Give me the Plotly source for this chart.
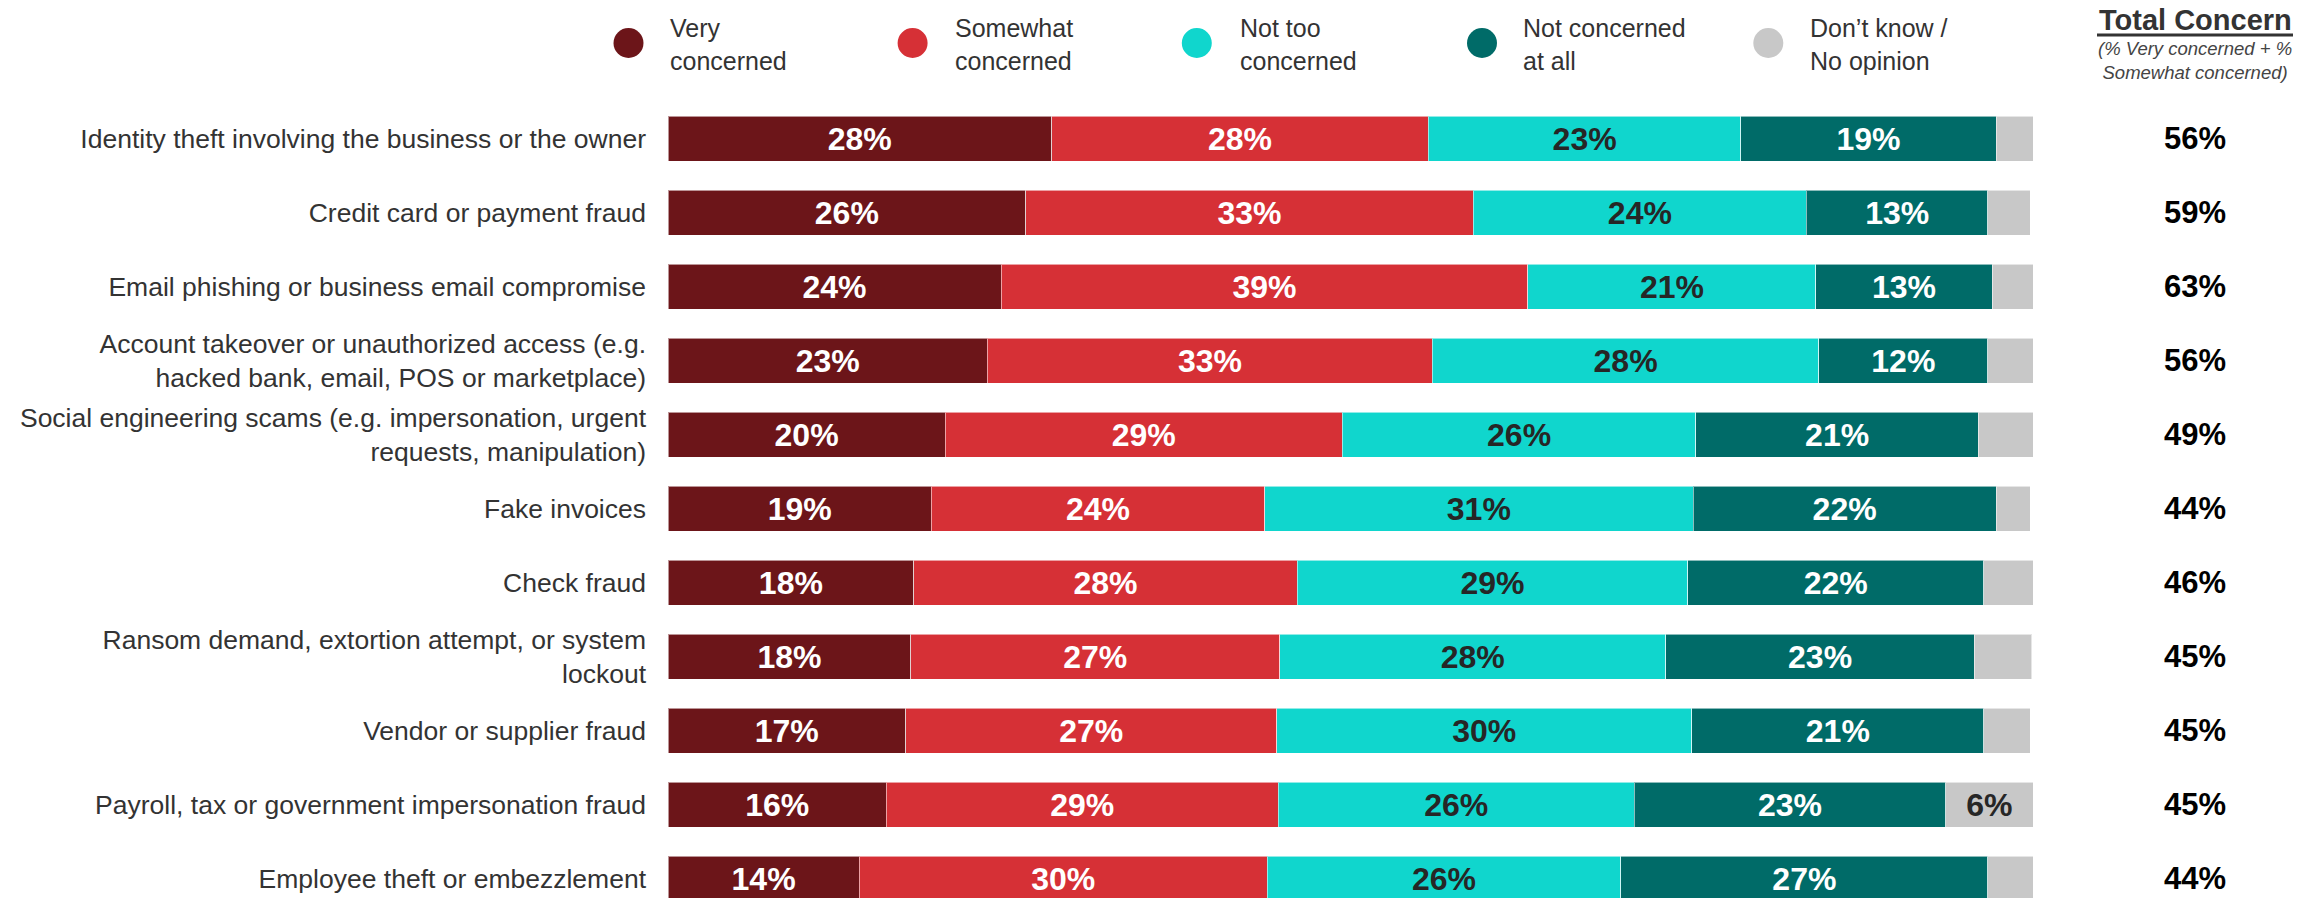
import plotly.graph_objects as go

# ---------------- data ----------------
categories = [
    "Identity theft involving the business or the owner",
    "Credit card or payment fraud",
    "Email phishing or business email compromise",
    "Account takeover or unauthorized access (e.g.<br>hacked bank, email, POS or marketplace)",
    "Social engineering scams (e.g. impersonation, urgent<br>requests, manipulation)",
    "Fake invoices",
    "Check fraud",
    "Ransom demand, extortion attempt, or system<br>lockout",
    "Vendor or supplier fraud",
    "Payroll, tax or government impersonation fraud",
    "Employee theft or embezzlement",
]
very = [28.1, 26.2, 24.4, 23.4, 20.3, 19.3, 18.0, 17.8, 17.4, 16.0, 14.0]
somewhat = [27.6, 32.8, 38.6, 32.6, 29.1, 24.4, 28.1, 27.0, 27.2, 28.7, 29.9]
not_too = [22.9, 24.4, 21.1, 28.3, 25.9, 31.4, 28.6, 28.3, 30.4, 26.1, 25.9]
not_at_all = [18.7, 13.3, 12.9, 12.4, 20.7, 22.2, 21.7, 22.6, 21.4, 22.8, 26.9]
dont_know = [2.8, 3.1, 3.0, 3.3, 4.0, 2.5, 3.6, 4.2, 3.4, 6.4, 3.3]
total_concern = [56, 59, 63, 56, 49, 44, 46, 45, 45, 45, 44]

series_names = ["Very<br>concerned", "Somewhat<br>concerned", "Not too<br>concerned",
                "Not concerned<br>at all", "Don\u2019t know /<br>No opinion"]
series_values = [very, somewhat, not_too, not_at_all, dont_know]
series_colors = ["#6C1519", "#D63036", "#10D6CD", "#006B68", "#C8C8C8"]
label_colors = ["#FFFFFF", "#FFFFFF", "#262626", "#FFFFFF", "#262626"]

# ---------------- geometry (pixels, in window coordinates) ----------------
OFF = 8  # page body margin that the html adds around the figure
W, H = 2320 - OFF, 898 - OFF
ML, MR, MT = 668 - OFF, 287, 100 - OFF
MB = 0
PW, PH = W - ML - MR, H - MT - MB


def px_x(px):
    return (px - OFF - ML) / PW


def px_y(py):
    return (H - MB - (py - OFF)) / PH


FONT = "Liberation Sans, Arial, sans-serif"

fig = go.Figure()
for name, vals, col, lcol in zip(series_names, series_values, series_colors, label_colors):
    fig.add_trace(go.Bar(
        y=categories, x=vals, orientation="h", name=name.replace("<br>", " "),
        marker=dict(color=col, line=dict(color="rgba(255,255,255,0.55)", width=1)),
        width=0.61,
        text=[f"{round(v)}%" if v >= 5 else "" for v in vals],
        textposition="inside", insidetextanchor="middle", textangle=0,
        textfont=dict(family=FONT, size=32, color=lcol, weight="bold"),
        hoverinfo="skip", showlegend=False,
    ))

lo = -(138.7 - 100) / 74.0
hi = lo + PH / 74.0

fig.update_layout(
    width=W, height=H, barmode="stack",
    margin=dict(l=ML, r=MR, t=MT, b=MB, autoexpand=False),
    plot_bgcolor="white", paper_bgcolor="white",
    font=dict(family=FONT, color="#333333"),
    uniformtext=dict(minsize=20, mode="show"),
    xaxis=dict(range=[0, 100], visible=False, showgrid=False, zeroline=False),
    yaxis=dict(type="category", categoryorder="array", categoryarray=categories,
               range=[hi, lo], showgrid=False, zeroline=False, showline=False,
               ticks="", ticklabelstandoff=21, automargin=False,
               tickfont=dict(family=FONT, size=26.5, color="#333333")),
)

# ---------------- legend (drawn manually with large circular markers) ----------------
marker_x = [628.5, 912.6, 1196.8, 1482.0, 1768.3]
text_x = [668, 953, 1238, 1521, 1808]
shapes = []
annotations = []
for name, col, mx, tx in zip(series_names, series_colors, marker_x, text_x):
    shapes.append(dict(type="circle", xref="paper", yref="paper",
                       xsizemode="pixel", ysizemode="pixel",
                       xanchor=px_x(mx), yanchor=px_y(43),
                       x0=-15, x1=15, y0=-15, y1=15,
                       fillcolor=col, line=dict(width=0)))
    annotations.append(dict(xref="paper", yref="paper", x=px_x(tx), y=px_y(45),
                            xanchor="left", yanchor="middle", align="left",
                            text=name, showarrow=False,
                            font=dict(family=FONT, size=25, color="#333333")))

# ---------------- Total Concern column ----------------
cx = px_x(2195)
annotations.append(dict(xref="paper", yref="paper", x=cx, y=px_y(20),
                        xanchor="center", yanchor="middle",
                        text="<b>Total Concern</b>", showarrow=False,
                        font=dict(family=FONT, size=29, color="#333333")))
shapes.append(dict(type="line", xref="paper", yref="paper",
                   x0=px_x(2097), x1=px_x(2293), y0=px_y(35), y1=px_y(35),
                   line=dict(color="#333333", width=3)))
annotations.append(dict(xref="paper", yref="paper", x=cx, y=px_y(61),
                        xanchor="center", yanchor="middle",
                        text="<i>(% Very concerned + %<br>Somewhat concerned)</i>",
                        showarrow=False,
                        font=dict(family=FONT, size=18.5, color="#444444")))
for cat, tc in zip(categories, total_concern):
    annotations.append(dict(xref="paper", yref="y", x=cx, y=cat,
                            xanchor="center", yanchor="middle",
                            text=f"<b>{tc}%</b>", showarrow=False,
                            font=dict(family=FONT, size=31, color="#000000")))

fig.update_layout(shapes=shapes, annotations=annotations)
fig.write_html("out.html")
